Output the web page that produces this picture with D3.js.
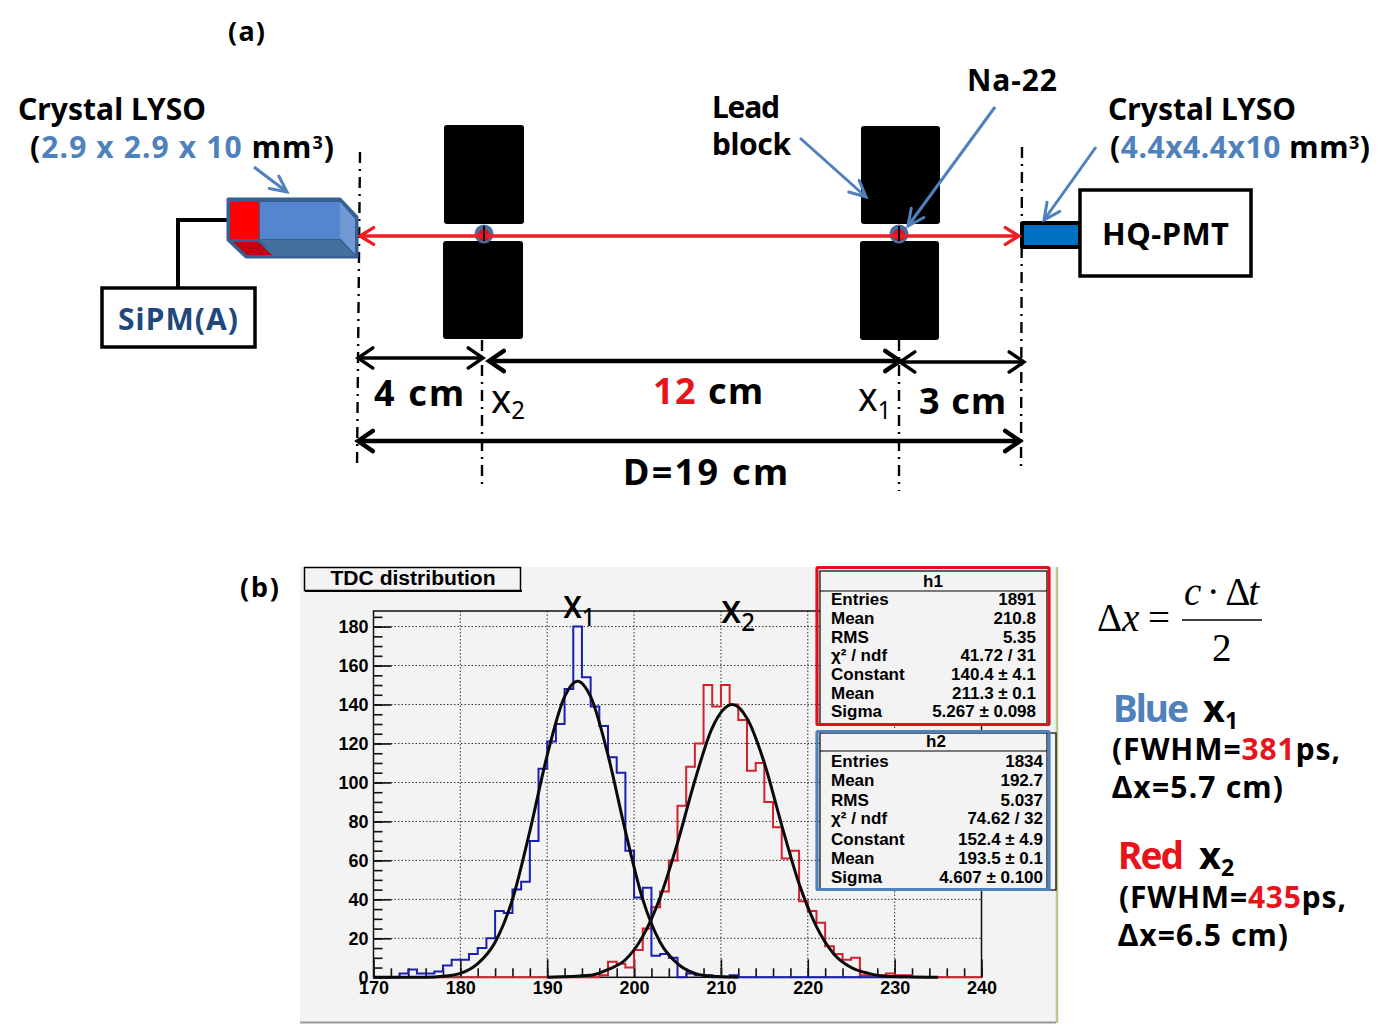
<!DOCTYPE html>
<html>
<head>
<meta charset="utf-8">
<script src="https://cdnjs.cloudflare.com/ajax/libs/d3/7.8.5/d3.min.js"></script>
<style>
  body { margin: 0; background: #fff; }
  svg { display: block; }
  text { font-family: "Noto Sans", sans-serif; font-weight: 700; fill: #000; }
  .root text, text.root { font-family: "Liberation Sans", Arial, sans-serif; font-weight: 700; }
  text.math { font-family: "Liberation Serif", serif; font-weight: 400; }
</style>
</head>
<body>
<svg id="chart" width="1398" height="1024"></svg>
<script>
// histogram bins start at 170, width 1
const binStarts = d3.range(170, 240);
const blueCounts = [0, 0, 0, 2, 4, 2, 2, 3, 6, 9, 9, 12, 15, 20, 34, 33, 45, 49, 70, 107,
  121, 130, 148, 180, 154, 139, 129, 113, 105, 65, 41, 46, 11, 12, 10, 0, 2, 1, 1, 0,
  0, 1, 0, 0, 0, 0, 0, 0, 0, 0, 0, 0, 0, 0, 0, 0, 0, 0, 0, 0,
  0, 0, 0, 0, 0, 0, 0, 0, 0, 0];
const redCounts = [0, 0, 0, 0, 0, 0, 0, 0, 0, 0, 0, 0, 0, 0, 0, 0, 0, 0, 0, 0,
  0, 0, 0, 0, 0, 0, 1, 8, 7, 5, 14, 25, 36, 44, 60, 88, 108, 120, 150, 139,
  150, 140, 132, 106, 110, 90, 77, 61, 65, 39, 34, 28, 16, 12, 9, 10, 1, 1, 1, 2,
  1, 1, 0, 0, 0, 0, 0, 0, 0, 0];

// fit curves
const blueFitX = [170, 176, 178, 180, 182, 184, 186, 188, 190, 192, 193.5, 195, 197, 199, 201, 203, 205, 207, 209, 212];
const blueFitY = [0, 0, 0.5, 2, 7, 18, 40, 75, 114, 144, 152, 144, 114, 75, 40, 18, 7, 2, 0.5, 0];
const redFitX = [190, 195, 197, 199, 201, 203, 205, 207, 209, 211.3, 213, 215, 217, 219, 221, 223, 225, 227, 229, 235];
const redFitY = [0, 1, 4, 9, 21, 41, 69, 101, 128, 140, 133, 110, 78, 48, 26, 12, 5, 2, 0.5, 0];

const xMajor = [170, 180, 190, 200, 210, 220, 230, 240];
const yMajor = [0, 20, 40, 60, 80, 100, 120, 140, 160, 180];

const h1Labels = ['Entries', 'Mean', 'RMS', 'χ² / ndf', 'Constant', 'Mean', 'Sigma'];
const h1Values = ['1891', '210.8', '5.35', '41.72 / 31', '140.4 ± 4.1', '211.3 ± 0.1', '5.267 ± 0.098'];
const h2Labels = ['Entries', 'Mean', 'RMS', 'χ² / ndf', 'Constant', 'Mean', 'Sigma'];
const h2Values = ['1834', '192.7', '5.037', '74.62 / 32', '152.4 ± 4.9', '193.5 ± 0.1', '4.607 ± 0.100'];

const BLUE = '#4f81bd';
const RED = '#e8141c';
const svg = d3.select('#chart');

// ---------- helpers ----------
function label(x, y, parts, size, width, adjust) {
  const t = svg.append('text').attr('x', x).attr('y', y).attr('font-size', size);
  parts.forEach(p => {
    t.append('tspan')
      .attr('fill', p.fill || '#000')
      .attr('font-size', p.size || size)
      .attr('font-style', p.italic ? 'italic' : 'normal')
      .attr('dy', p.dy || 0)
      .text(p.t);
  });
  if (width) t.attr('textLength', width).attr('lengthAdjust', adjust || 'spacing');
  return t;
}

function seg(x1, y1, x2, y2, color, w) {
  return svg.append('line').attr('x1', x1).attr('y1', y1).attr('x2', x2).attr('y2', y2)
    .attr('stroke', color).attr('stroke-width', w);
}

function head(x, y, fromX, fromY, color, w, len, spread) {
  const a = Math.atan2(y - fromY, x - fromX);
  const pts = [-spread, 0, spread].map(s => s === 0 ? [x, y] :
    [x - len * Math.cos(a + s), y - len * Math.sin(a + s)]);
  svg.append('path').attr('d', d3.line()(pts)).attr('fill', 'none')
    .attr('stroke', color).attr('stroke-width', w)
    .attr('stroke-linecap', 'round').attr('stroke-linejoin', 'miter');
}

function arrow(x1, y1, x2, y2, color, w, both, len = 18, spread = 0.55) {
  seg(x1, y1, x2, y2, color, w);
  head(x2, y2, x1, y1, color, w, len, spread);
  if (both) head(x1, y1, x2, y2, color, w, len, spread);
}

function poly(points, fill, stroke, w) {
  svg.append('path').attr('d', d3.line()(points) + 'Z')
    .attr('fill', fill).attr('stroke', stroke || 'none').attr('stroke-width', w || 0)
    .attr('stroke-linejoin', 'round');
}

function box(x, y, w, h, fill, stroke, sw, rx) {
  return svg.append('rect').attr('x', x).attr('y', y).attr('width', w).attr('height', h)
    .attr('fill', fill).attr('stroke', stroke || 'none').attr('stroke-width', sw || 0).attr('rx', rx || 0);
}

function dashDot(x1, y1, x2, y2) {
  seg(x1, y1, x2, y2, '#000', 2.4).attr('stroke-dasharray', '11 6 2 6');
}

// ---------- (a) setup ----------
label(228, 41, [{ t: '(a)' }], 27, 37);

dashDot(360, 152, 357, 467);
dashDot(484, 225, 484, 243);
dashDot(482, 340, 482, 485);
dashDot(899, 225, 899, 243);
dashDot(899, 340, 899, 491);
dashDot(1022, 147, 1021, 470);

// lead blocks
box(444, 125, 80, 99, '#000', null, 0, 3);
box(443, 241, 80, 98, '#000', null, 0, 3);
box(861, 126, 79, 98, '#000', null, 0, 3);
box(860, 241, 79, 99, '#000', null, 0, 3);

// left crystal and SiPM
svg.append('path').attr('d', d3.line()([[227, 220], [178, 220], [178, 288]]))
  .attr('fill', 'none').attr('stroke', '#000').attr('stroke-width', 4);
box(102, 288, 153, 59, '#fff', '#000', 3.5);
label(118, 330, [{ t: 'SiPM(A)', fill: '#1f497d' }], 30, 120);

poly([[228, 199], [340, 199], [357, 217], [357, 257], [246, 257], [228, 240]], '#376092', '#376092', 3);
box(260, 202, 80, 37, '#5485cf');
poly([[340, 202], [355, 219], [355, 254], [340, 238]], '#7199d6');
poly([[260, 240], [340, 240], [355, 256], [272, 256]], '#44709f');
box(230, 202, 29, 37, '#ff0000');
poly([[233, 242], [258, 242], [272, 255], [247, 255]], '#c40010');

// right crystal and PMT
box(1022, 223, 58, 24, '#0070c0', '#000', 4, 1);
box(1080, 190, 171, 86, '#fff', '#000', 3.5);
label(1102, 245, [{ t: 'HQ-PMT' }], 31, 127);

// gamma line and sources
[484, 899].forEach(cx => {
  svg.append('circle').attr('cx', cx).attr('cy', 234).attr('r', 9.5).attr('fill', '#4a6a9c');
  svg.append('circle').attr('cx', cx).attr('cy', 235).attr('r', 6).attr('fill', '#e0101c');
});
arrow(360, 236, 1019, 236, '#ee1c25', 3.4, true, 16, 0.55);
[484, 899].forEach(cx => seg(cx, 226, cx, 241, '#000', 2));

// pointer arrows
arrow(254, 167, 287, 192, BLUE, 3, false, 18, 0.45);
arrow(800, 138, 866, 197, BLUE, 3, false, 18, 0.45);
arrow(995, 107, 908, 226, BLUE, 3, false, 18, 0.45);
arrow(1096, 147, 1044, 220, BLUE, 3, false, 18, 0.45);

// dimensions
arrow(358, 358, 483, 358, '#000', 3.4, true, 18, 0.6);
arrow(489, 361, 900, 361, '#000', 4.4, true, 18, 0.6);
arrow(900, 362, 1024, 362, '#000', 3.4, true, 18, 0.6);
arrow(358, 441, 1020, 441, '#000', 4.4, true, 18, 0.6);

label(18, 120, [{ t: 'Crystal LYSO' }], 30, 188);
label(30, 158, [{ t: '(' }, { t: '2.9 x 2.9 x 10', fill: BLUE }, { t: ' mm' }, { t: '3', size: 18, dy: -9 }, { t: ')', dy: 9 }], 30, 304);
label(967, 91, [{ t: 'Na-22' }], 30, 90);
label(712, 118, [{ t: 'Lead' }], 30, 68);
label(712, 155, [{ t: 'block' }], 30, 79);
label(1108, 120, [{ t: 'Crystal LYSO' }], 30, 188);
label(1110, 158, [{ t: '(' }, { t: '4.4x4.4x10', fill: BLUE }, { t: ' mm' }, { t: '3', size: 18, dy: -9 }, { t: ')', dy: 9 }], 30, 260);

label(374, 406, [{ t: '4 cm' }], 36, 90);
label(653, 404, [{ t: '12', fill: RED }, { t: ' cm' }], 36, 110);
label(919, 414, [{ t: '3 cm' }], 36, 87);
label(623, 485, [{ t: 'D=19 cm' }], 36, 165);
label(491, 413, [{ t: 'x' }, { t: '2', size: 25, dy: 6 }], 40, 34, 'spacingAndGlyphs').style('font-weight', 400);
label(858, 411, [{ t: 'x' }, { t: '1', size: 25, dy: 8 }], 40, 33, 'spacingAndGlyphs').style('font-weight', 400);

// ---------- (b) histogram ----------
label(240, 597, [{ t: '(b)' }], 27, 39);

box(300, 567, 756, 456, '#f3f3f3');
seg(1057, 567, 1057, 1023, '#c2c28a', 2.5);
seg(300, 1022.5, 1056, 1022.5, '#9a9a9a', 2);

const xScale = d3.scaleLinear().domain([170, 240]).range([373.5, 981.5]);
const yScale = d3.scaleLinear().domain([0, 188]).range([977.3, 611]);

// title box
box(304.5, 567.5, 216, 23, '#f3f3f3', '#000', 1.5);
seg(305, 591, 522, 591, '#000', 2);
svg.append('text').attr('class', 'root').attr('x', 413).attr('y', 585)
  .attr('text-anchor', 'middle').attr('font-size', 20).attr('textLength', 165)
  .attr('lengthAdjust', 'spacingAndGlyphs').text('TDC distribution');

// grid
const plot = svg.append('g').attr('class', 'root');
plot.selectAll('.gx').data(xMajor.slice(1, -1)).enter().append('line')
  .attr('x1', d => xScale(d)).attr('x2', d => xScale(d))
  .attr('y1', yScale(188)).attr('y2', yScale(0))
  .attr('stroke', '#333').attr('stroke-width', 1).attr('stroke-dasharray', '1.5 2');
plot.selectAll('.gy').data(yMajor.slice(1)).enter().append('line')
  .attr('x1', xScale(170)).attr('x2', xScale(240))
  .attr('y1', d => yScale(d)).attr('y2', d => yScale(d))
  .attr('stroke', '#333').attr('stroke-width', 1).attr('stroke-dasharray', '1.5 2');

// axes, ticks point into the frame as in ROOT
const xMinor = d3.axisBottom(xScale).tickValues(d3.range(170, 241, 2)).tickSize(-9).tickFormat('');
const yMinor = d3.axisLeft(yScale).tickValues(d3.range(0, 186, 5)).tickSize(-9).tickFormat('');
const xAxis = d3.axisBottom(xScale).tickValues(xMajor).tickSize(-18).tickPadding(4).tickFormat(d3.format('d'));
const yAxis = d3.axisLeft(yScale).tickValues(yMajor).tickSize(-18).tickPadding(5).tickFormat(d3.format('d'));

[xMinor, xAxis].forEach(a => plot.append('g').attr('transform', `translate(0,${yScale(0)})`).call(a));
[yMinor, yAxis].forEach(a => plot.append('g').attr('transform', `translate(${xScale(170)},0)`).call(a));
plot.selectAll('.domain').remove();
plot.selectAll('.tick line').attr('stroke', '#111').attr('stroke-width', 1.6);
plot.selectAll('.tick text').attr('font-size', 18).attr('fill', '#000');

plot.append('rect').attr('x', xScale(170)).attr('y', yScale(188))
  .attr('width', xScale(240) - xScale(170)).attr('height', yScale(0) - yScale(188))
  .attr('fill', 'none').attr('stroke', '#111').attr('stroke-width', 1.5);

// histograms
const stepLine = d3.line().curve(d3.curveStepAfter).x(d => xScale(d[0])).y(d => yScale(d[1]));
const histPoints = counts => binStarts.map((b, i) => [b, counts[i]]).concat([[240, 0]]);
plot.append('path').attr('d', stepLine(histPoints(redCounts)))
  .attr('fill', 'none').attr('stroke', '#d2202c').attr('stroke-width', 2);
plot.append('path').attr('d', stepLine(histPoints(blueCounts).slice(0, 62)))
  .attr('fill', 'none').attr('stroke', '#1a1fb0').attr('stroke-width', 2);

// fits
const fitLine = d3.line().curve(d3.curveMonotoneX).x(d => xScale(d[0])).y(d => yScale(d[1]));
[[blueFitX, blueFitY], [redFitX, redFitY]].forEach(([xs, ys]) => {
  plot.append('path').attr('d', fitLine(xs.map((x, i) => [x, ys[i]])))
    .attr('fill', 'none').attr('stroke', '#0a0a0a').attr('stroke-width', 3);
});

// peak labels
label(563, 618, [{ t: 'x' }, { t: '1', size: 25, dy: 8 }], 39, 32, 'spacingAndGlyphs').style('font-weight', 500);
label(721, 623, [{ t: 'x' }, { t: '2', size: 25, dy: 8 }], 39, 34, 'spacingAndGlyphs').style('font-weight', 500);

// stat boxes
function statBox(name, labels, values, o) {
  box(820, o.top, o.innerRight - 820, o.bottom - o.top, '#f3f3f3', '#000', 1.2);
  seg(820, o.titleY, o.innerRight, o.titleY, '#000', 1.2);
  box(817, o.frameTop, 232, o.frameH, 'none', o.color, 3.2, 1);
  const g = svg.append('g').attr('class', 'root').attr('font-size', 17);
  g.append('text').attr('x', o.titleX).attr('y', o.titleY - 4).attr('text-anchor', 'middle').text(name);
  g.selectAll('.lab').data(labels).enter().append('text')
    .attr('x', 831).attr('y', (d, i) => o.rows[i]).text(d => d);
  g.selectAll('.val').data(values).enter().append('text')
    .attr('x', o.right).attr('y', (d, i) => o.rows[i]).attr('text-anchor', 'end').text(d => d);
}

// the black frame of h2 sticks out behind its blue box
box(1040, 733, 16, 157, 'none', '#000', 1.2);
statBox('h1', h1Labels, h1Values, {
  top: 571, bottom: 724, innerRight: 1047, titleY: 591, titleX: 933, frameTop: 567.5, frameH: 157,
  color: '#e2101a', right: 1036, rows: [605, 624, 643, 661, 680, 699, 717]
});
statBox('h2', h2Labels, h2Values, {
  top: 733, bottom: 889, innerRight: 1047, titleY: 751, titleX: 936, frameTop: 731.5, frameH: 158,
  color: BLUE, right: 1043, rows: [767, 786, 806, 824, 845, 864, 883]
});

// ---------- formula and notes ----------
label(1097, 631, [{ t: 'Δ' }, { t: 'x', italic: true }], 39).attr('class', 'math');
label(1148, 631, [{ t: '=' }], 39).attr('class', 'math');
label(1184, 605, [{ t: 'c', italic: true }, { t: ' · ' }, { t: 'Δ' }, { t: 't', italic: true }], 39, 75).attr('class', 'math');
seg(1182, 620, 1262, 620, '#000', 1.6);
label(1212, 661, [{ t: '2' }], 39).attr('class', 'math');

label(1113, 722, [{ t: 'Blue', fill: BLUE }], 37, 76);
label(1203, 722, [{ t: 'x' }, { t: '1', size: 23, dy: 7 }], 38);
label(1112, 760, [{ t: '(FWHM=' }, { t: '381', fill: RED }, { t: 'ps,' }], 30, 228);
label(1112, 798, [{ t: 'Δx=5.7 cm)' }], 30, 171);
label(1118, 869, [{ t: 'Red', fill: RED }], 37, 66);
label(1199, 869, [{ t: 'x' }, { t: '2', size: 23, dy: 7 }], 38);
label(1119, 908, [{ t: '(FWHM=' }, { t: '435', fill: RED }, { t: 'ps,' }], 30, 227);
label(1118, 946, [{ t: 'Δx=6.5 cm)' }], 30, 170);
</script>
</body>
</html>
